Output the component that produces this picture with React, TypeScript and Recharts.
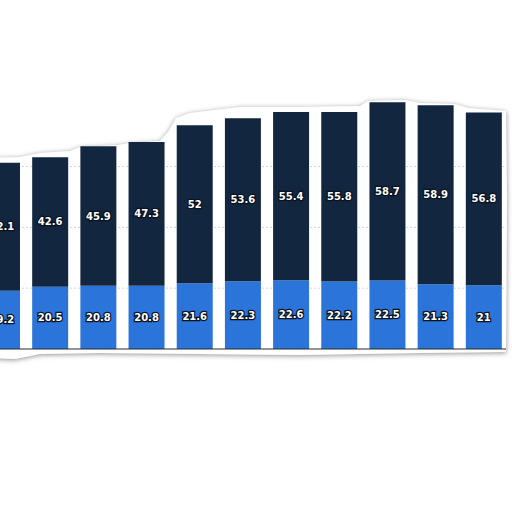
import React from 'react';
import { Bar, BarChart, CartesianGrid, LabelList, XAxis, YAxis } from 'recharts';

// years are cut off in the torn snippet, keep placeholders
const categories = ['c0', 'c1', 'c2', 'c3', 'c4', 'c5', 'c6', 'c7', 'c8', 'c9', 'c10'];
const lowerValues = [19.2, 20.5, 20.8, 20.8, 21.6, 22.3, 22.6, 22.2, 22.5, 21.3, 21];
const upperValues = [42.1, 42.6, 45.9, 47.3, 52, 53.6, 55.4, 55.8, 58.7, 58.9, 56.8];
const gridTicks = [20, 40, 60];

const data = categories.map((name, i) => ({
  name,
  lower: lowerValues[i],
  upper: upperValues[i],
}));

const NAVY = '#13263f';
const BLUE = '#2b74d9';

// torn paper outline behind the chart
const paperPath =
  'M-10,158 L20,157 L40,153 L70,151 L80,147 L118,145 L130,143 L160,141 L168,132 L176,118 L190,113 L215,110 L240,107 ' +
  'L300,107 L360,106 L368,101 L405,100 L420,103 L455,104 L468,108 L506,111 L507,200 L506,352 L420,353 L300,355 ' +
  'L200,354 L100,353 L40,354 L15,359 L-10,358 Z';

const labelStyle = {
  fill: '#ffffff',
  fontSize: 10,
  fontWeight: 700,
  fontFamily: 'DejaVu Sans, sans-serif',
  stroke: '#08131f',
  strokeWidth: 2.5,
  paintOrder: 'stroke' as const,
};

export default function App() {
  return (
    <div style={{ position: 'absolute', left: 0, top: 0, width: 512, height: 512, overflow: 'hidden', background: '#fff' }}>
      <svg width={512} height={512} style={{ position: 'absolute', left: 0, top: 0 }}>
        <defs>
          <filter id="paperShadow" x="-10%" y="-10%" width="120%" height="130%">
            <feDropShadow dx="0" dy="1" stdDeviation="2.6" floodColor="#7a7a7a" floodOpacity="0.85" />
          </filter>
        </defs>
        <path d={paperPath} fill="#ffffff" filter="url(#paperShadow)" />
      </svg>
      <div style={{ position: 'absolute', left: -22, top: 45, width: 528, overflow: 'hidden' }}>
        <BarChart
          width={530}
          height={314}
          data={data}
          margin={{ top: 0, right: 0, bottom: 0, left: 0 }}
          barSize={36}
        >
          <CartesianGrid
            vertical={false}
            horizontalValues={gridTicks}
            stroke="#d6d6d6"
            strokeDasharray="2 2"
          />
          <YAxis hide domain={[0, 100]} ticks={gridTicks} />
          <XAxis
            dataKey="name"
            height={10}
            tick={false}
            tickLine={false}
            axisLine={{ stroke: '#2a2a2a', strokeWidth: 1 }}
          />
          <Bar dataKey="lower" stackId="a" fill={BLUE} isAnimationActive={false}>
            <LabelList dataKey="lower" position="center" style={labelStyle} />
          </Bar>
          <Bar dataKey="upper" stackId="a" fill={NAVY} isAnimationActive={false}>
            <LabelList dataKey="upper" position="center" style={labelStyle} />
          </Bar>
        </BarChart>
      </div>
    </div>
  );
}
